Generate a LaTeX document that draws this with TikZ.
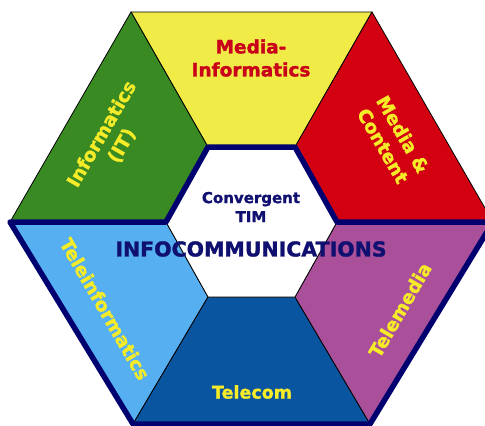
\documentclass[tikz,border=0pt]{standalone}
\usepackage{fontspec}
\setmainfont{DejaVu Sans}[BoldFeatures={FakeBold=1.5}]
\definecolor{segyellow}{HTML}{F0EB46}
\definecolor{segred}{HTML}{D30012}
\definecolor{seggreen}{HTML}{3A8A23}
\definecolor{segsky}{HTML}{55AFF0}
\definecolor{segblue}{HTML}{0A55A0}
\definecolor{segpurple}{HTML}{AA509B}
\definecolor{rimnavy}{HTML}{00006E}
\definecolor{labyellow}{HTML}{F5EB28}
\definecolor{labred}{HTML}{C80019}
\definecolor{labnavy}{HTML}{101070}
\begin{document}
\begin{tikzpicture}[x=1pt,y=-1pt,
  sector/.style={draw=black,line width=0.8pt,line join=round},
  rim/.style={draw=rimnavy,line width=5.5pt,line join=round},
  lab/.style={font=\bfseries\fontsize{18.5}{23}\selectfont,text=labyellow,
              align=center,inner sep=0pt},
  core/.style={font=\bfseries\fontsize{15}{19}\selectfont,text=labnavy,
               align=center,inner sep=0pt},
]
\useasboundingbox (0,0) rectangle (485,426);
\clip (0,0) rectangle (485,426);
\fill[white] (0,0) rectangle (485,426);

% outer hexagon
\coordinate (oL)  at (10,222);
\coordinate (oTL) at (131,12);
\coordinate (oTR) at (372,12);
\coordinate (oR)  at (493,222);
\coordinate (oBR) at (370,424);
\coordinate (oBL) at (133,424);
% inner hexagon
\coordinate (iL)  at (166,222);
\coordinate (iTL) at (208,147);
\coordinate (iTR) at (295,147);
\coordinate (iR)  at (337,222);
\coordinate (iBR) at (295,297);
\coordinate (iBL) at (208,297);

% six sectors
\filldraw[sector,fill=segyellow] (oTL) -- (oTR) -- (iTR) -- (iTL) -- cycle;
\filldraw[sector,fill=segred]    (oTR) -- (oR) -- (iR) -- (iTR) -- cycle;
\filldraw[sector,fill=seggreen]  (oL) -- (oTL) -- (iTL) -- (iL) -- cycle;
\filldraw[sector,fill=segsky]    (oL) -- (iL) -- (iBL) -- (oBL) -- cycle;
\filldraw[sector,fill=segblue]   (iBL) -- (iBR) -- (oBR) -- (oBL) -- cycle;
\filldraw[sector,fill=segpurple] (iR) -- (oR) -- (oBR) -- (iBR) -- cycle;
\filldraw[sector,fill=white] (iL) -- (iTL) -- (iTR) -- (iR) -- (iBR) -- (iBL) -- cycle;

% heavy rim around the lower half and the upper half of the core
\draw[rim] (oL) -- (oBL) -- (oBR) -- (oR) -- (iR) -- (iTR) -- (iTL) -- (iL) -- cycle;

% sector labels
\node[lab,text=labred] (mi) at (251,58) {Media-\\Informatics};
\node[lab,rotate=60]   (it) at (112,140) {Informatics\\(IT)};
\node[lab,rotate=-60]  (mc) at (393,140) {Media \&\\Content};
\node[lab,rotate=-60]  (ti) at (105,309) {Teleinformatics};
\node[lab,rotate=60]   (tm) at (400,310) {Telemedia};
\node[lab,font=\bfseries\fontsize{17.5}{21}\selectfont] (tc) at (252,392) {Telecom};

% core labels
\node[core] (cv) at (251,207) {Convergent\\TIM};
\node[core,font=\bfseries\fontsize{20.5}{24}\selectfont] (ic) at (251,249) {INFOCOMMUNICATIONS};
\end{tikzpicture}
\end{document}
